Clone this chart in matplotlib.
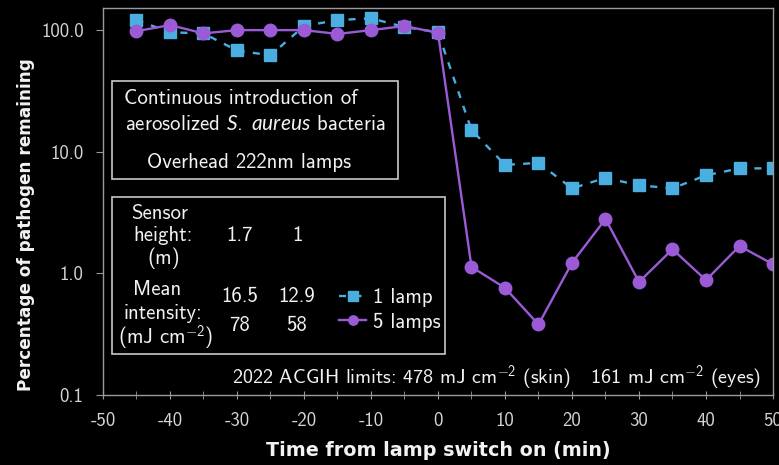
import matplotlib
matplotlib.use("Agg")
import matplotlib.pyplot as plt
from matplotlib.patches import Rectangle
from matplotlib.ticker import FixedLocator, MultipleLocator, FuncFormatter

# time from lamp switch on (min)
time_min = [-45, -40, -35, -30, -25, -20, -15, -10, -5, 0,
            5, 10, 15, 20, 25, 30, 35, 40, 45, 50]
# percentage of pathogen remaining
one_lamp = [121, 96, 94, 68, 62, 108, 121, 125, 106, 96,
            15.1, 7.8, 8.1, 5.0, 6.1, 5.3, 5.0, 6.4, 7.3, 7.3]
five_lamps = [98, 110, 94, 100, 100, 100, 93, 100, 108, 95,
              1.13, 0.76, 0.38, 1.22, 2.8, 0.85, 1.58, 0.88, 1.68, 1.19]

y_ticks = [0.1, 1, 10, 100]
x_ticks = [-50, -40, -30, -20, -10, 0, 10, 20, 30, 40, 50]

BLUE = "#4aaee0"
PURPLE = "#9b5bd6"
FG = "#f2f2f2"
EDGE = "#9a9a9a"

plt.rcParams["font.family"] = ["cmss10", "DejaVu Sans"]
plt.rcParams["axes.unicode_minus"] = False
plt.rcParams["mathtext.fontset"] = "custom"
plt.rcParams["mathtext.rm"] = "cmss10"
plt.rcParams["mathtext.it"] = "Lato:italic"
plt.rcParams["mathtext.fallback"] = "cm"

fig = plt.figure(figsize=(7.79, 4.65), dpi=100, facecolor="black")
ax = fig.add_axes([0.1322, 0.1505, 0.8601, 0.8323], facecolor="black")

l1, = ax.plot(time_min, one_lamp, color=BLUE, ls=(0, (3, 3.5)), lw=1.7,
              marker="s", ms=9, label="1 lamp")
l5, = ax.plot(time_min, five_lamps, color=PURPLE, ls="-", lw=1.7,
              marker="o", ms=9, label="5 lamps")

ax.set_yscale("log")
ax.set_ylim(0.1, 152)
ax.set_xlim(-50, 50)
ax.yaxis.set_major_locator(FixedLocator(y_ticks))
ax.yaxis.set_minor_locator(FixedLocator([]))
ax.yaxis.set_major_formatter(FuncFormatter(lambda v, p: "%.1f" % v))
ax.xaxis.set_major_locator(FixedLocator(x_ticks))
ax.xaxis.set_minor_locator(MultipleLocator(5))

for s in ax.spines.values():
    s.set_color(EDGE)
    s.set_linewidth(1.0)
ax.tick_params(axis="x", which="both", direction="inout", length=6, color=EDGE,
               labelcolor="#d4d4d4", labelsize=13.5, pad=9)
ax.tick_params(axis="y", which="both", direction="out", length=5, color=EDGE,
               labelcolor="#d4d4d4", labelsize=13.5, pad=9)

ax.set_xlabel("Time from lamp switch on (min)", color=FG, fontsize=13.8,
              fontweight="bold", family="DejaVu Sans", labelpad=8)
ax.set_ylabel("Percentage of pathogen remaining", color=FG, fontsize=12.2,
              fontweight="bold", family="DejaVu Sans")
ax.yaxis.set_label_coords(-0.102, 0.439)

# upper info box
ax.add_patch(Rectangle((0.0134, 0.558), 0.4266, 0.253, transform=ax.transAxes,
                       fill=False, ec="#c8c8c8", lw=1.2))
kw = dict(transform=ax.transAxes, ha="center", va="center", color=FG, fontsize=15)
ax.text(0.206, 0.765, "Continuous introduction of", **kw)
ax.text(0.227, 0.698, r"aerosolized $\mathit{S.\ aureus}$ bacteria", **kw)
ax.text(0.218, 0.602, "Overhead 222nm lamps", **kw)

# lower table + legend box
ax.add_patch(Rectangle((0.0134, 0.106), 0.4966, 0.406, transform=ax.transAxes,
                       fill=False, ec="#c8c8c8", lw=1.2))
col_a = (160 - 103) / 670
col_b = (240 - 103) / 670
col_c = (297 - 103) / 670
ax.text(col_a, (395 - 213) / 387, "Sensor", **kw)
ax.text(col_a + 0.005, (395 - 235) / 387, "height:", **kw)
ax.text(col_a + 0.005, (395 - 258) / 387, "(m)", **kw)
ax.text(col_b, (395 - 235) / 387, "1.7", **kw)
ax.text(col_c, (395 - 235) / 387, "1", **kw)
ax.text(col_a - 0.005, (395 - 289) / 387, "Mean", **kw)
ax.text(col_a + 0.005, (395 - 313) / 387, "intensity:", **kw)
ax.text(col_a + 0.008, (395 - 338) / 387, r"(mJ cm$^{-2}$)", **kw)
ax.text(col_b, (395 - 296) / 387, "16.5", **kw)
ax.text(col_c, (395 - 296) / 387, "12.9", **kw)
ax.text(col_b, (395 - 325) / 387, "78", **kw)
ax.text(col_c, (395 - 325) / 387, "58", **kw)

leg = ax.legend(handles=[l1, l5], loc="center left",
                bbox_to_anchor=((329 - 103) / 670, (395 - 310) / 387),
                frameon=False, fontsize=15, handlelength=1.3, handletextpad=0.3,
                labelspacing=0.25, borderpad=0, markerscale=0.75)
for t in leg.get_texts():
    t.set_color(FG)

ax.text((497 - 103) / 670, (395 - 378) / 387,
        r"2022 ACGIH limits: 478 mJ cm$^{-2}$ (skin)   161 mJ cm$^{-2}$ (eyes)",
        transform=ax.transAxes, ha="center", va="center", color=FG, fontsize=14.5)

fig.savefig("out.png", dpi=100, facecolor="black")
